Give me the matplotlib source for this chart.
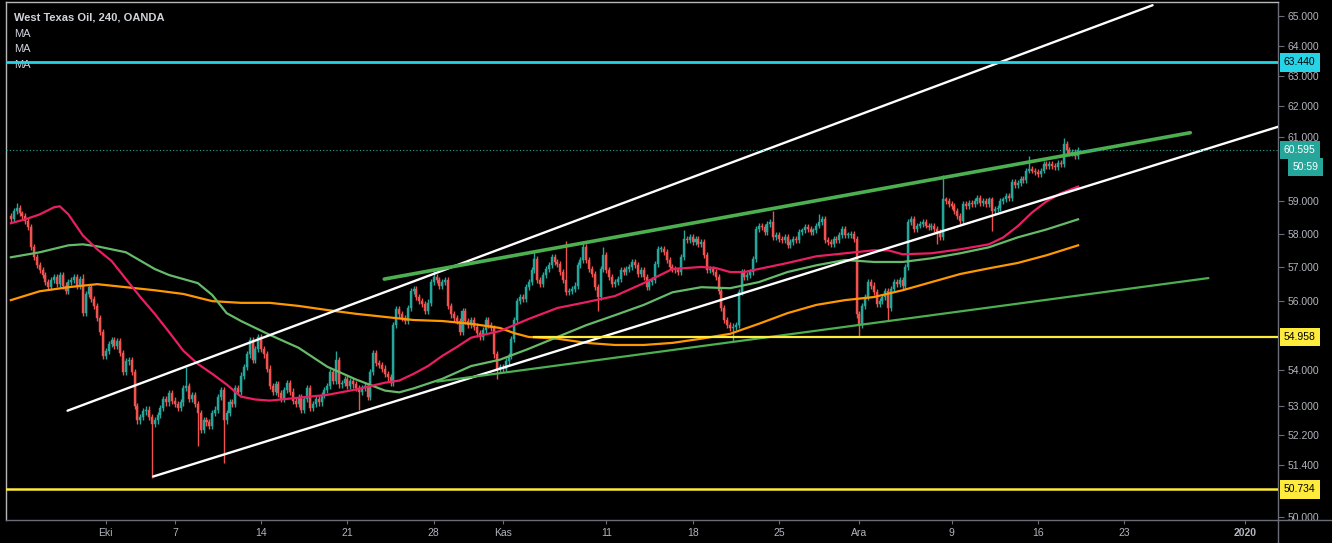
import numpy as np
import pandas as pd
import matplotlib
matplotlib.use('Agg')
import matplotlib.pyplot as plt
import matplotlib.transforms as mtransforms
from matplotlib.lines import Line2D
from matplotlib.ticker import FixedLocator, NullLocator, NullFormatter, FuncFormatter

# ---------------- data (4H candles, West Texas Oil, OANDA) ----------------
first_open = 58.55
closes = [
    58.45, 58.70, 58.80, 58.62, 58.55, 58.40, 58.20, 57.60, 57.30, 57.05, 56.90,
    56.75, 56.55, 56.40, 56.62, 56.70, 56.50, 56.75, 56.45, 56.30, 56.55,
    56.60, 56.70, 56.45, 56.65, 55.65, 56.20, 56.40, 56.05, 55.85, 55.50,
    55.10, 54.40, 54.55, 54.75, 54.85, 54.70, 54.82, 54.50, 53.95, 54.25,
    54.30, 53.95, 53.00, 52.60, 52.70, 52.85, 52.90, 52.70, 52.50, 52.60,
    52.75, 52.95, 53.20, 53.10, 53.35, 53.15, 53.05, 52.95, 53.10, 53.50,
    53.55, 53.20, 53.30, 53.05, 52.80, 52.35, 52.60, 52.55, 52.45, 52.80,
    52.90, 53.25, 53.45, 52.60, 52.80, 53.10, 53.05, 53.50, 53.40, 53.85,
    54.10, 54.45, 54.85, 54.30, 54.60, 54.95, 54.60, 54.45, 54.05, 53.55,
    53.40, 53.60, 53.35, 53.20, 53.45, 53.65, 53.40, 53.15, 53.05, 53.25,
    52.90, 53.20, 53.50, 52.95, 53.05, 53.20, 53.10, 53.30, 53.45, 53.55,
    53.95, 53.70, 54.30, 53.60, 53.65, 53.75, 53.55, 53.70, 53.60, 53.50,
    53.40, 53.50, 53.55, 53.25, 53.95, 54.50, 54.20, 54.15, 54.05, 53.90,
    53.80, 53.65, 55.30, 55.75, 55.60, 55.50, 55.40, 55.80, 56.30, 56.35,
    56.10, 56.00, 55.90, 55.70, 55.95, 56.55, 56.70, 56.60, 56.45, 56.55,
    56.60, 55.85, 55.60, 55.50, 55.40, 55.10, 55.70, 55.40, 55.30, 55.45,
    55.25, 55.05, 54.95, 55.15, 55.45, 55.30, 55.20, 54.45, 54.05, 54.10,
    54.05, 54.25, 54.40, 54.90, 55.45, 56.00, 56.10, 56.05, 56.40, 56.55,
    56.90, 57.25, 56.60, 56.50, 56.75, 56.95, 57.05, 57.30, 57.15, 57.10,
    56.85, 56.60, 56.25, 56.30, 56.35, 56.45, 57.05, 57.20, 57.60, 57.20,
    56.95, 56.80, 56.40, 56.10, 56.95, 57.35, 56.90, 56.70, 56.50, 56.55,
    56.65, 56.90, 56.85, 56.95, 57.00, 57.15, 57.05, 56.80, 56.90, 56.70,
    56.40, 56.55, 56.60, 57.10, 57.55, 57.55, 57.45, 57.20, 57.00, 56.95,
    56.90, 56.85, 57.30, 57.85, 57.80, 57.90, 57.75, 57.85, 57.70, 57.75,
    57.35, 56.90, 56.95, 56.85, 56.70, 56.30, 55.80, 55.45, 55.30, 55.20,
    55.25, 55.30, 56.25, 56.85, 56.70, 56.75, 56.85, 57.25, 58.15, 58.25,
    58.20, 58.05, 58.30, 58.35, 57.90, 57.95, 57.85, 57.80, 57.90, 57.65,
    57.75, 57.85, 57.80, 58.05, 58.10, 58.20, 58.15, 58.05, 58.10, 58.25,
    58.35, 58.45, 57.80, 57.75, 57.70, 57.85, 57.80, 57.95, 58.15, 57.95,
    57.95, 58.00, 57.85, 55.60, 55.30, 55.85, 56.10, 56.55, 56.45, 56.25,
    55.90, 56.00, 56.10, 56.30, 55.80, 56.35, 56.55, 56.50, 56.60, 56.45,
    57.00, 58.35, 58.45, 58.15, 58.25, 58.30, 58.35, 58.25, 58.20, 58.25,
    58.15, 58.05, 57.90, 59.05, 59.00, 58.90, 58.85, 58.70, 58.55, 58.40,
    58.90, 58.85, 58.95, 58.90, 59.00, 59.10, 58.95, 59.00, 58.90, 59.05,
    58.70, 58.75, 58.80, 59.00, 59.05, 59.15, 59.10, 59.60, 59.50, 59.55,
    59.70, 59.65, 59.95, 60.00, 59.95, 59.90, 59.85, 59.95, 60.15, 60.10,
    60.15, 60.10, 60.05, 60.20, 60.15, 60.80, 60.60, 60.50, 60.55, 60.40, 60.60,
]
# notable wick extremes (bar index -> price)
wick_high = {2: 58.95, 25: 56.80, 61: 54.10, 86: 55.00, 113: 54.55, 147: 56.90,
             182: 57.50, 193: 57.77, 199: 57.77, 206: 57.60, 234: 58.10, 265: 58.68,
             281: 58.60, 324: 59.80, 354: 60.40, 366: 60.98}
wick_low = {49: 51.05, 65: 51.90, 74: 51.45, 121: 52.90, 169: 53.75, 204: 55.70,
            251: 54.84, 295: 54.95, 305: 55.41, 322: 57.70, 341: 58.07}

# moving averages (sampled at bar indices)
ma_fast_idx = [0, 5, 10, 15, 17, 20, 25, 30, 35, 40, 45, 50, 55, 60, 65, 70, 75, 80, 85, 90,
               100, 110, 120, 130, 135, 140, 145, 150, 155, 160, 170, 180, 190, 200, 210, 220,
               230, 240, 245, 250, 255, 260, 270, 280, 290, 300, 305, 310, 320, 330, 340, 345,
               350, 355, 360, 365, 371]
ma_fast = [58.32, 58.44, 58.59, 58.81, 58.84, 58.59, 57.95, 57.53, 57.18, 56.64,
           56.11, 55.62, 55.09, 54.55, 54.18, 53.90, 53.60, 53.26, 53.18, 53.15,
           53.23, 53.31, 53.46, 53.65, 53.71, 53.90, 54.12, 54.41, 54.66, 54.93,
           55.12, 55.47, 55.79, 55.96, 56.14, 56.52, 56.94, 57.00, 56.97, 56.85,
           56.85, 56.94, 57.12, 57.32, 57.41, 57.50, 57.50, 57.38, 57.41, 57.53,
           57.68, 57.89, 58.23, 58.65, 58.99, 59.24, 59.45]
ma_mid_idx = [0, 10, 20, 25, 30, 40, 50, 55, 60, 65, 70, 75, 80, 90, 100, 110, 120, 130, 135,
              140, 150, 160, 170, 180, 190, 200, 210, 220, 230, 240, 250, 260, 270, 280, 290,
              300, 310, 320, 330, 340, 350, 360, 371]
ma_mid = [57.29, 57.44, 57.65, 57.68, 57.62, 57.44, 56.94, 56.76, 56.64, 56.52,
          56.17, 55.64, 55.41, 55.01, 54.64, 54.10, 53.74, 53.43, 53.38, 53.49,
          53.76, 54.12, 54.30, 54.61, 54.95, 55.29, 55.58, 55.88, 56.25, 56.40,
          56.37, 56.55, 56.85, 57.05, 57.21, 57.15, 57.15, 57.26, 57.41, 57.59,
          57.89, 58.13, 58.44]
ma_slow_idx = [0, 10, 20, 30, 40, 50, 60, 70, 80, 90, 100, 110, 120, 130, 140, 150, 160, 170,
               175, 180, 190, 200, 210, 220, 230, 240, 250, 260, 270, 280, 290, 300, 310, 320,
               330, 340, 350, 360, 371]
ma_slow = [56.02, 56.28, 56.40, 56.49, 56.40, 56.31, 56.20, 55.99, 55.94, 55.94,
           55.85, 55.73, 55.62, 55.53, 55.44, 55.41, 55.33, 55.21, 55.06, 54.95,
           54.90, 54.78, 54.72, 54.72, 54.78, 54.90, 55.04, 55.33, 55.64, 55.88,
           56.02, 56.11, 56.31, 56.55, 56.79, 56.96, 57.12, 57.35, 57.65]

# drawn trend lines: (bar index, price) endpoints
channel_upper = [(19.7, 52.87), (396.9, 65.37)]
channel_lower = [(49.5, 51.08), (440.5, 61.34)]
trend_top = [(129.8, 56.64), (410.0, 61.15)]
trend_bottom = [(148.1, 53.68), (416.3, 56.67)]

# horizontal levels
level_resist = 63.440
level_mid = 54.958
level_mid_start = 181.7
level_support = 50.734
last_price = 60.595
countdown = "50:59"

# 55.000 and 60.000 are hidden behind the price labels in the reference
price_ticks = [50.0, 51.4, 52.2, 53.0, 54.0, 56.0, 57.0, 58.0, 59.0,
               61.0, 62.0, 63.0, 64.0, 65.0]
date_ticks = [("2019-10-01", "Eki"), ("2019-10-07", "7"), ("2019-10-14", "14"),
              ("2019-10-21", "21"), ("2019-10-28", "28"), ("2019-11-01", "Kas"),
              ("2019-11-11", "11"), ("2019-11-18", "18"), ("2019-11-25", "25"),
              ("2019-12-01", "Ara"), ("2019-12-09", "9"), ("2019-12-16", "16"),
              ("2019-12-23", "23"), ("2020-01-01", "2020")]

title = "West Texas Oil, 240, OANDA"
legend_items = ["MA", "MA", "MA"]

# ---------------- calendar mapping (6 bars per trading day) ----------------
days = pd.bdate_range("2019-09-23", "2020-01-15")
BARS_PER_DAY = 6
FIRST_BAR_OFFSET = 3   # data starts with the 4th bar of Sep 23


def date_to_index(ds):
    d = pd.Timestamp(ds)
    shift = 0
    if d.weekday() >= 5:  # weekend label -> Sunday session just before Monday
        d = days[days.searchsorted(d)]
        shift = -2
    k = days.get_loc(d)
    return k * BARS_PER_DAY - FIRST_BAR_OFFSET + shift


# ---------------- figure ----------------
W, H = 1332, 543
BG = "#000000"
UP, DOWN = "#26a69a", "#ef5350"
TXT = "#b2b5be"
AXC = "#6a6d78"

fig = plt.figure(figsize=(W / 100, H / 100), dpi=100, facecolor=BG)
ax = fig.add_axes([6 / W, 1 - 520 / H, (1278 - 6) / W, (520 - 2) / H])
ax.set_facecolor(BG)
ax.set_yscale("log")
ax.set_xlim(-1.7, 440.5)
ax.set_ylim(49.93, 65.48)

closes_a = np.array(closes)
opens_a = np.concatenate([[first_open], closes_a[:-1]])
idx = np.arange(len(closes_a))
body_lo = np.minimum(opens_a, closes_a)
body_hi = np.maximum(opens_a, closes_a)
WICK = 0.09  # minimal visible wick beyond body
highs = body_hi + WICK
lows = body_lo - WICK
for k, v in wick_high.items():
    highs[k] = max(highs[k], v)
for k, v in wick_low.items():
    lows[k] = min(lows[k], v)
cols = np.where(closes_a >= opens_a, UP, DOWN)

ax.vlines(idx, lows, highs, colors=cols, linewidth=1.0, zorder=2)
heights = np.maximum(body_hi - body_lo, 0.03)
ax.bar(idx, heights, bottom=body_lo, width=0.7, color=cols, edgecolor=cols,
       linewidth=0.3, zorder=3)

# moving averages
ax.plot(ma_slow_idx, ma_slow, color="#ff9800", lw=1.6, zorder=4)
ax.plot(ma_mid_idx, ma_mid, color="#66bb6a", lw=1.6, zorder=4)
ax.plot(ma_fast_idx, ma_fast, color="#e91e63", lw=1.6, zorder=4)

# trend lines
for seg, c, lw in [(channel_upper, "white", 1.7), (channel_lower, "white", 1.7),
                   (trend_top, "#4caf50", 2.6), (trend_bottom, "#4caf50", 1.6)]:
    ax.plot([seg[0][0], seg[1][0]], [seg[0][1], seg[1][1]], color=c, lw=lw,
            solid_capstyle="round", zorder=5)

# horizontal levels
ax.axhline(level_resist, color="#26d4e8", lw=2.0, zorder=6)
ax.axhline(level_support, color="#ffeb3b", lw=1.8, zorder=6)
ax.plot([level_mid_start, 440.5], [level_mid, level_mid], color="#ffeb3b", lw=1.6, zorder=6)
ax.axhline(last_price, color=UP, lw=0.8, ls=(0, (1, 2)), zorder=6)

# axes styling
ax.yaxis.tick_right()
ax.yaxis.set_major_locator(FixedLocator(price_ticks))
ax.yaxis.set_major_formatter(FuncFormatter(lambda v, p: f"{v:.3f}"))
ax.yaxis.set_minor_locator(NullLocator())
ax.yaxis.set_minor_formatter(NullFormatter())
ax.tick_params(axis="y", which="major", direction="out", length=4, width=0.8,
               color=AXC, labelcolor=TXT, labelsize=7.5, pad=3)

xt = [date_to_index(d) for d, _ in date_ticks]
ax.set_xticks(xt)
ax.set_xticklabels([lab for _, lab in date_ticks])
ax.tick_params(axis="x", direction="out", length=3, width=0.8, color=AXC,
               labelcolor=TXT, labelsize=7.5, pad=3)
for t in ax.get_xticklabels():
    t.set_fontfamily("Liberation Sans")
    if t.get_text() == "2020":
        t.set_fontweight("bold")
for t in ax.get_yticklabels():
    t.set_fontfamily("Liberation Sans")

for s in ["left", "top"]:
    ax.spines[s].set_color("#b8b8b8")
    ax.spines[s].set_linewidth(1.0)
for s in ["right", "bottom"]:
    ax.spines[s].set_color(AXC)
    ax.spines[s].set_linewidth(1.0)

# extend axis separators through the price scale / time scale strips
fig.add_artist(Line2D([1278 / W, 1.0], [1 - 520 / H] * 2, transform=fig.transFigure,
                      color=AXC, lw=1.0))
fig.add_artist(Line2D([1278 / W] * 2, [0, 1 - 520 / H], transform=fig.transFigure,
                      color=AXC, lw=1.0))

# price labels on the scale
trans = mtransforms.blended_transform_factory(ax.transAxes, ax.transData)
xlab = 1.0 + 6 / 1272


def price_box(y, text, fc, tc, dy=0, dx=0):
    ax.annotate(text, xy=(xlab, y), xycoords=trans, xytext=(dx, dy),
                textcoords="offset points", ha="left", va="center", fontsize=7.5,
                family="Liberation Sans", color=tc, zorder=10, annotation_clip=False,
                bbox=dict(boxstyle="square,pad=0.4", fc=fc, ec="none"))


price_box(level_resist, f"{level_resist:.3f}", "#26d4e8", "#000000")
price_box(last_price, f"{last_price:.3f}", "#26a69a", "#ffffff")
price_box(last_price, countdown, "#26a69a", "#ffffff", dy=-12, dx=6)
price_box(level_mid, f"{level_mid:.3f}", "#ffeb3b", "#000000")
price_box(level_support, f"{level_support:.3f}", "#ffeb3b", "#000000")

# header legend
ax.text(8 / 1272, 1 - 16 / 518, title, transform=ax.transAxes, ha="left", va="center",
        fontsize=8, fontweight="bold", family="Liberation Sans", color="#d1d4dc", zorder=1)
for j, lab in enumerate(legend_items):
    ax.text(8 / 1272, 1 - (32 + 15.5 * j) / 518, lab, transform=ax.transAxes, ha="left",
            va="center", fontsize=8, family="Liberation Sans", color="#d1d4dc", zorder=1)

fig.savefig("out.png", dpi=100, facecolor=BG)
